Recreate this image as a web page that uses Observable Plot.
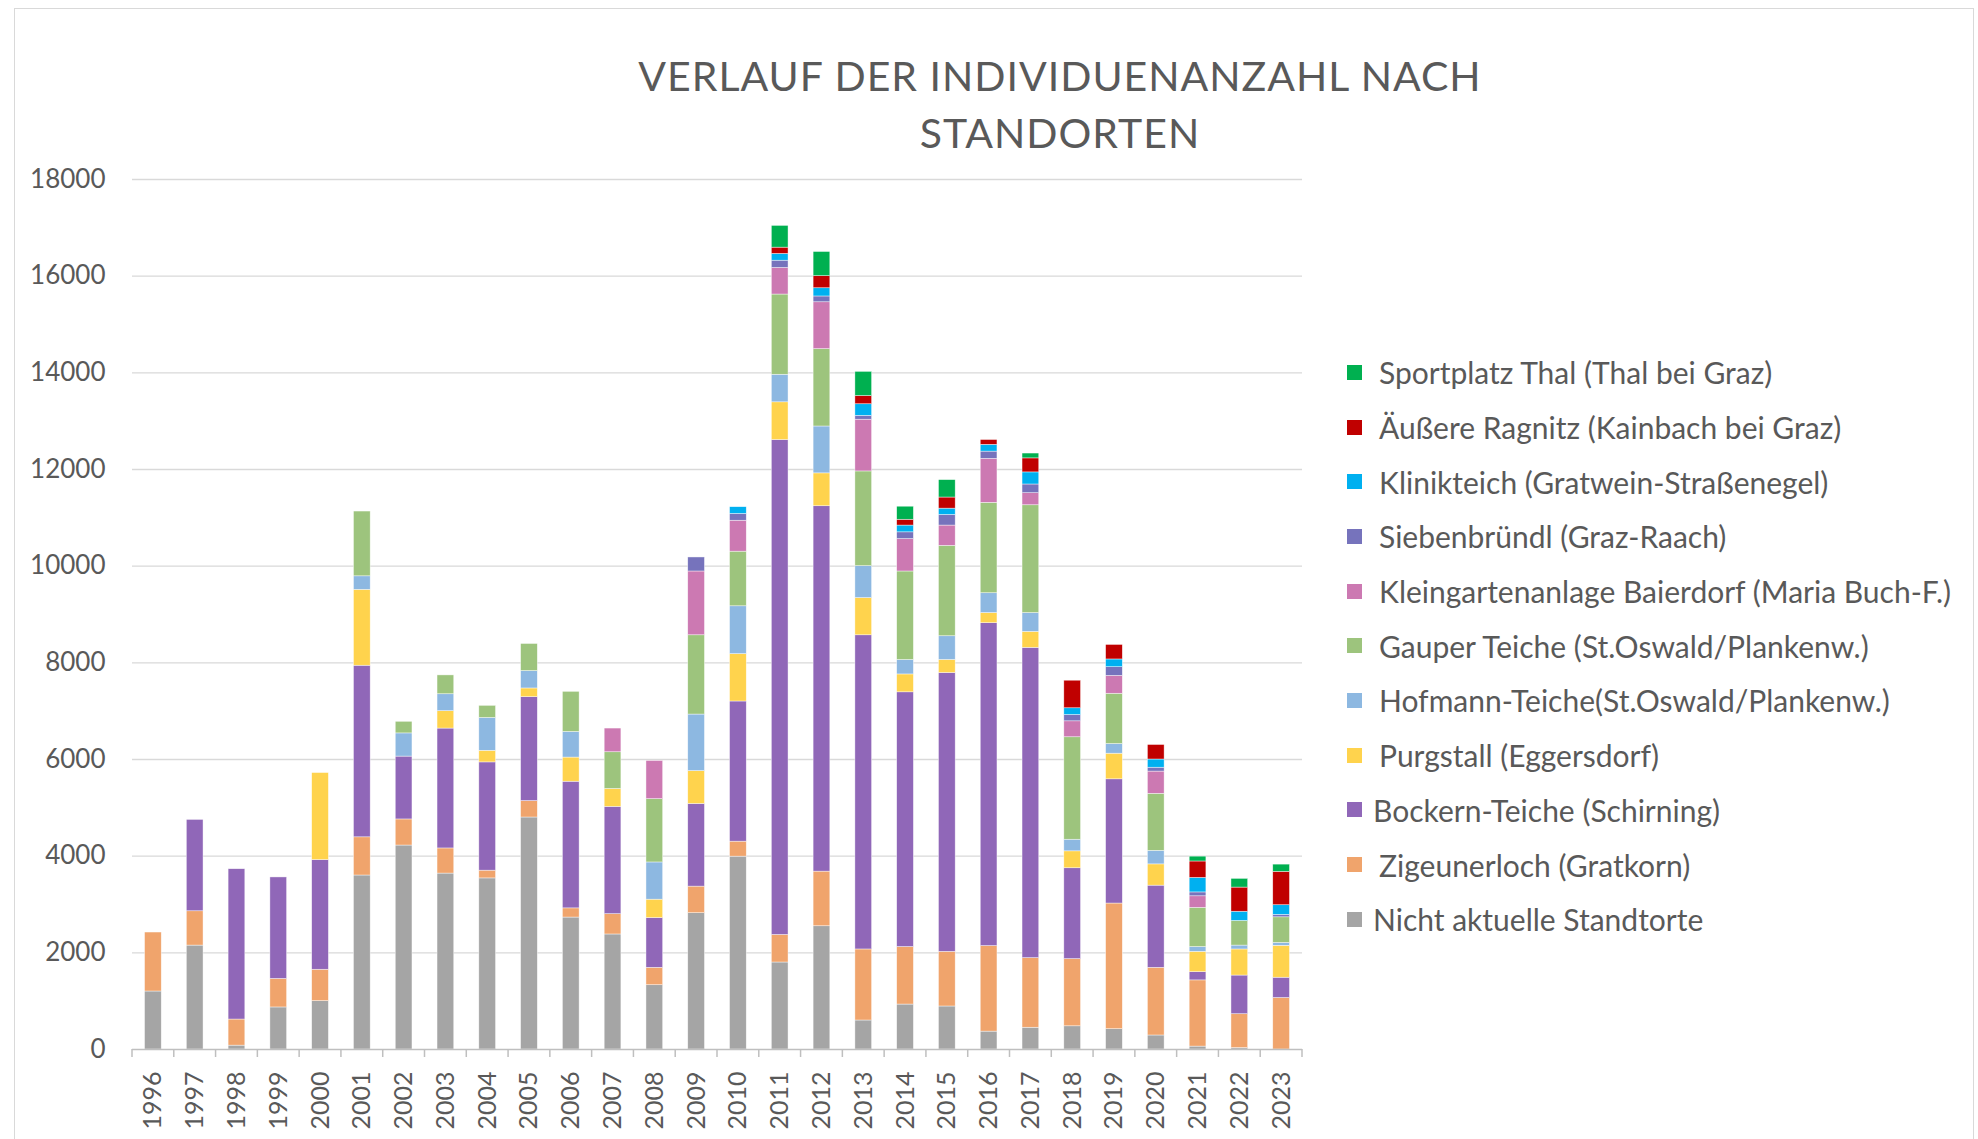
<!DOCTYPE html>
<html>
<head>
<meta charset="utf-8">
<script src="https://cdn.jsdelivr.net/npm/d3@7"></script>
<script src="https://cdn.jsdelivr.net/npm/@observablehq/plot@0.6"></script>
<style>
  body { margin: 0; background: #fff; font-family: Lato, "Open Sans", sans-serif; }
  #wrap { position: relative; width: 1978px; height: 1139px; overflow: hidden; background: #fff; }
  #frame { position: absolute; left: 14px; top: 8px; width: 1960px; height: 1300px; border: 1px solid #D9D9D9; box-sizing: border-box; }
  #chart { position: absolute; left: 0; top: 0; }
  #title { position: absolute; left: 460px; width: 1200px; top: 47px; text-align: center; color: #595959;
           font-family: Lato, sans-serif; font-size: 41px; line-height: 57px; letter-spacing: 1px; }
  #legend { position: absolute; left: 1347px; top: 345px; color: #595959; font-family: Lato, sans-serif; font-size: 30px; }
  .row { display: flex; align-items: center; height: 54.7px; white-space: nowrap; }
  .sw { width: 15px; height: 15px; margin-right: 17px; flex: none; }
</style>
</head>
<body>
<div id="wrap">
  <div id="frame"></div>
  <div id="chart"></div>
  <div id="title">VERLAUF DER INDIVIDUENANZAHL NACH<br>STANDORTEN</div>
  <div id="legend"></div>
</div>
<script>
const years = ["1996","1997","1998","1999","2000","2001","2002","2003","2004","2005","2006","2007","2008","2009",
               "2010","2011","2012","2013","2014","2015","2016","2017","2018","2019","2020","2021","2022","2023"];

const nichtAktuelle = [1200,2150,80,870,1000,3600,4220,3640,3540,4800,2730,2380,1330,2820,3990,1800,2550,600,930,890,370,450,480,420,290,60,30,0];
const zigeunerloch  = [1220,710,540,590,650,790,540,520,160,340,190,420,360,550,310,570,1130,1470,1190,1130,1770,1440,1390,2600,1400,1370,700,1065];
const bockern       = [0,1890,3110,2100,2270,3550,1300,2480,2240,2150,2620,2220,1030,1710,2900,10240,7560,6500,5270,5770,6680,6420,1880,2570,1700,170,800,420];
const purgstall     = [0,0,0,0,1800,1570,0,360,240,180,500,370,380,680,980,780,680,770,370,270,210,330,350,530,440,420,540,660];
const hofmann       = [0,0,0,0,0,280,480,350,680,360,530,0,770,1170,990,570,970,660,300,490,410,390,240,200,280,100,80,60];
const gauper        = [0,0,0,0,0,1340,240,390,250,560,830,760,1310,1640,1130,1660,1600,1960,1830,1870,1870,2230,2120,1040,1180,810,510,530];
const kleingarten   = [0,0,0,0,0,0,0,0,0,0,0,490,790,1320,640,550,970,1070,670,420,910,250,330,370,460,240,0,0];
const siebenbruendl = [0,0,0,0,0,0,0,0,0,0,0,0,0,290,140,150,120,80,140,220,150,180,130,180,80,80,0,50];
const klinikteich   = [0,0,0,0,0,0,0,0,0,0,0,0,0,0,140,140,170,240,140,130,140,250,140,160,170,300,190,200];
const ragnitz       = [0,0,0,0,0,0,0,0,0,0,0,0,0,0,0,130,250,170,120,230,100,290,570,300,300,340,500,690];
const thal          = [0,0,0,0,0,0,0,0,0,0,0,0,0,0,0,450,500,500,270,360,0,100,0,0,0,100,180,150];

// stacking order, bottom to top
const seriesNames = [
  "Nicht aktuelle Standtorte",
  "Zigeunerloch (Gratkorn)",
  "Bockern-Teiche (Schirning)",
  "Purgstall (Eggersdorf)",
  "Hofmann-Teiche(St.Oswald/Plankenw.)",
  "Gauper Teiche (St.Oswald/Plankenw.)",
  "Kleingartenanlage Baierdorf (Maria Buch-F.)",
  "Siebenbründl (Graz-Raach)",
  "Klinikteich (Gratwein-Straßenegel)",
  "Äußere Ragnitz (Kainbach bei Graz)",
  "Sportplatz Thal (Thal bei Graz)"
];
const seriesValues = [nichtAktuelle, zigeunerloch, bockern, purgstall, hofmann, gauper, kleingarten, siebenbruendl, klinikteich, ragnitz, thal];
const seriesColors = ["#A5A5A5","#F0A46C","#9067B8","#FFD34D","#8DB8E1","#9DC47D","#CC79B2","#7673BC","#00B0F0","#C00000","#00B050"];
// the reference legend sets these two labels slightly further left
const legendShift = [-6, 0, -6, 0, 0, 0, 0, 0, 0, 0, 0];

const yTicks = [0,2000,4000,6000,8000,10000,12000,14000,16000,18000];

const rows = [];
years.forEach((yr, i) => {
  seriesNames.forEach((s, k) => {
    const v = seriesValues[k][i];
    if (v > 0) rows.push({year: yr, series: s, value: v});
  });
});

// Excel-style category tick marks at the band boundaries
function boundaryTicks(index, scales, values, dims) {
  const g = d3.create("svg:g").attr("stroke", "#BFBFBF").attr("stroke-width", 1.5);
  const x = scales.x;
  const bw = x.bandwidth ? x.bandwidth() : 0;
  const step = x.step ? x.step() : (dims.width - dims.marginLeft - dims.marginRight) / years.length;
  const y0 = scales.y(0);
  const pos = years.map(yr => x(yr) - (step - bw) / 2);
  pos.push(x(years[years.length - 1]) + bw + (step - bw) / 2);
  for (const px of pos) {
    g.append("line").attr("x1", px).attr("x2", px).attr("y1", y0).attr("y2", y0 + 8);
  }
  return g.node();
}

const W = 1978, H = 1139;
const chart = Plot.plot({
  width: W,
  height: H,
  marginLeft: 132,
  marginRight: 676,
  marginTop: 179,
  marginBottom: 90,
  style: {fontFamily: "Lato, sans-serif", fontSize: "26px", color: "#595959", background: "transparent", overflow: "visible"},
  x: {domain: years, paddingInner: 0.6, paddingOuter: 0.3, round: false, label: null},
  y: {domain: [0, 18000], label: null},
  color: {domain: seriesNames, range: seriesColors},
  marks: [
    Plot.ruleY(yTicks.filter(d => d > 0), {stroke: "#D9D9D9", strokeWidth: 1.3}),
    Plot.barY(rows, {x: "year", y: "value", fill: "series", order: seriesNames, stroke: "#ffffff", strokeWidth: 0.6, strokeOpacity: 0.7}),
    Plot.ruleY([0], {stroke: "#BFBFBF", strokeWidth: 1.5}),
    boundaryTicks,
    Plot.axisX({tickRotate: -90, tickSize: 0, tickPadding: 22, fontSize: 25, label: null}),
    Plot.axisY({ticks: yTicks, tickSize: 0, tickPadding: 27, tickFormat: d3.format("d"), fontSize: 26, label: null})
  ]
});
document.getElementById("chart").appendChild(chart);

// legend, top to bottom in reverse stacking order
const legend = document.getElementById("legend");
for (let k = seriesNames.length - 1; k >= 0; k--) {
  const row = document.createElement("div");
  row.className = "row";
  const sw = document.createElement("div");
  sw.className = "sw";
  sw.style.background = seriesColors[k];
  const label = document.createElement("span");
  label.textContent = seriesNames[k];
  label.style.marginLeft = legendShift[k] + "px";
  row.appendChild(sw);
  row.appendChild(label);
  legend.appendChild(row);
}
</script>
</body>
</html>
